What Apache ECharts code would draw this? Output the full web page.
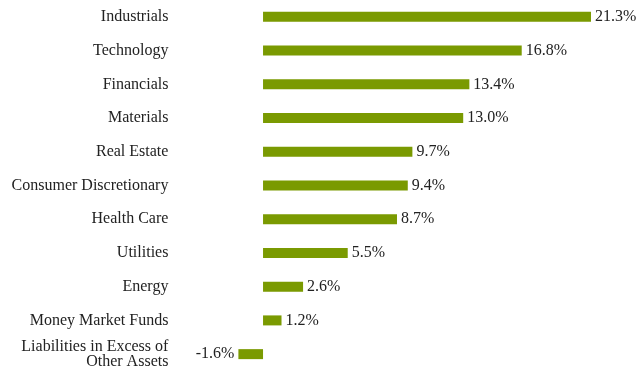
<!DOCTYPE html>
<html>
<head>
<meta charset="utf-8">
<script src="https://cdn.jsdelivr.net/npm/echarts@6/dist/echarts.min.js"></script>
<style>html,body{margin:0;padding:0;background:#fff;}#c{width:638px;height:373px;}</style>
</head>
<body>
<div id="c"></div>
<script>
var categories = ["Industrials","Technology","Financials","Materials","Real Estate","Consumer Discretionary","Health Care","Utilities","Energy","Money Market Funds","Liabilities in Excess of\nOther Assets"];
var values = [21.3,16.8,13.4,13.0,9.7,9.4,8.7,5.5,2.6,1.2,-1.6];

var chart = echarts.init(document.getElementById('c'));
chart.setOption({
  animation: false,
  grid: {left: 238.4, width: 352.6, top: -1, height: 372, containLabel: false},
  xAxis: {type: 'value', min: -1.6, max: 21.3, show: false},
  yAxis: {
    type: 'category', data: categories, inverse: true,
    axisLine: {show: false}, axisTick: {show: false},
    axisLabel: {margin: 70, fontFamily: 'Liberation Serif', fontSize: 16, color: '#222', lineHeight: 15, align: 'right'}
  },
  series: [{
    type: 'bar', barWidth: 10,
    data: values.map(function(v){
      return {value: v, label: {position: v < 0 ? 'left' : 'right'}};
    }),
    itemStyle: {color: '#7a9a01'},
    label: {show: true, distance: 4, fontFamily: 'Liberation Serif', fontSize: 16, color: '#222',
      formatter: function(p){ return p.value.toFixed(1) + '%'; }}
  }]
});
</script>
</body>
</html>
